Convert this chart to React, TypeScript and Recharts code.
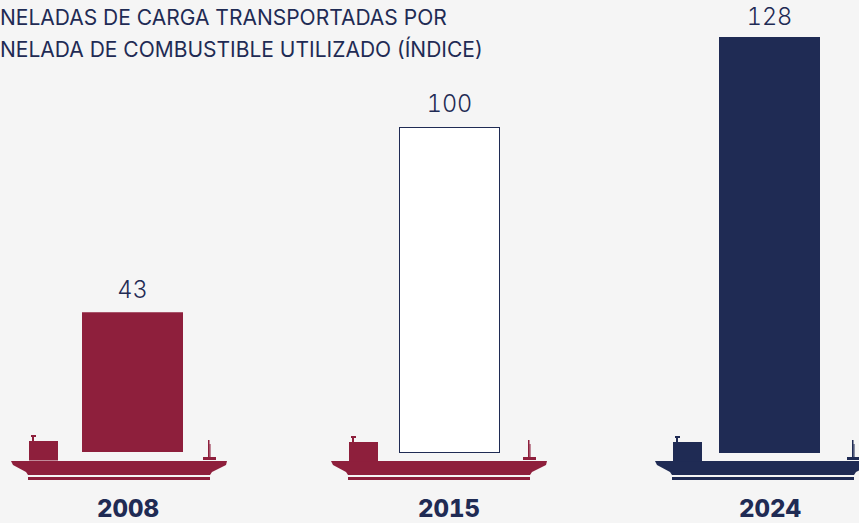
import React from "react";
import { BarChart, Bar, XAxis, YAxis, LabelList } from "recharts";

const years = ["2008", "2015", "2024"];
const values = [43, 100, 128];
const titleLines = ["NELADAS DE CARGA TRANSPORTADAS POR", "NELADA DE COMBUSTIBLE UTILIZADO (ÍNDICE)"];

const NAVY = "#1f2b54";
const RED = "#8e1f3c";
const BG = "#f5f5f5";
const barFills = [RED, "#ffffff", NAVY];
const barStrokes = [RED, NAVY, NAVY];
const shipColors = [RED, RED, NAVY];
const barNudge = [4.5, 0.5, -0.5];
const barLift = [1, 0.5, 0];
const labelGap = [15, 16, 12];
const shipNudge = [-9, -10, -7];
const cabinDrop = [0, 1, 1];
const FONT = "Inter, sans-serif";

const data = years.map((year, i) => ({ year, value: values[i], i }));

function Ship({ cx, top, color, drop }: { cx: number; top: number; color: string; drop: number }) {
  // cx: centre of the hull, top: top of the hull
  const hull = [[-108, 0], [108, 0], [107, 4], [93, 11], [91, 14], [-91, 14], [-93, 11], [-106, 4]]
    .map(([x, y]) => `${cx + x},${top + y}`).join(" ");
  return (
    <g fill={color}>
      <polygon points={hull} />
      <rect x={cx - 91} y={top + 16} width={182} height={3} />
      <rect x={cx - 90} y={top - 20 + drop} width={29} height={19.5} />
      <rect x={cx - 87} y={top - 24 + drop} width={2} height={4} />
      <rect x={cx - 88} y={top - 26 + drop} width={5} height={2} />
      <rect x={cx + 84} y={top - 4} width={13} height={3} />
      <rect x={cx + 89} y={top - 21} width={1.5} height={18} />
      <rect x={cx + 90.5} y={top - 17} width={1} height={14} />
    </g>
  );
}

function Tick(props: any) {
  const { x, payload, index } = props;
  return (
    <g>
      <Ship cx={x + shipNudge[index]} top={461} color={shipColors[index]} drop={cabinDrop[index]} />
      <text x={x} y={517} textAnchor="middle" fontFamily={FONT} fontWeight={800} fontSize={24} fill={NAVY} style={{ fontVariantNumeric: "tabular-nums" }}>
        {payload.value}
      </text>
    </g>
  );
}

function BarShape(props: any) {
  const { x, y, width, height, i } = props;
  const stroked = i === 1;
  return (
    <rect
      x={x + barNudge[i] + (stroked ? 0.5 : 0)}
      y={y - barLift[i]}
      width={width - (stroked ? 1 : 0)}
      height={height}
      fill={barFills[i]}
      stroke={stroked ? barStrokes[i] : "none"}
      strokeWidth={1}
    />
  );
}

function ValueLabel(props: any) {
  const { x, y, width, value, index } = props;
  return (
    <text x={x + width / 2 + barNudge[index]} y={y - labelGap[index]} textAnchor="middle" fontFamily={FONT} fontWeight={300} fontSize={23.5} fill={NAVY} style={{ fontVariantNumeric: "tabular-nums" }}>
      {value}
    </text>
  );
}

export default function App() {
  return (
    <div style={{ position: "absolute", left: 0, top: 0, width: 859, height: 523, overflow: "hidden", background: BG }}>
      <BarChart
        width={859}
        height={523}
        data={data}
        barSize={101}
        margin={{ top: 37, right: -71.5, bottom: 0, left: -32.5 }}
      >
        <XAxis dataKey="year" axisLine={false} tickLine={false} height={70} tick={<Tick />} interval={0} />
        <YAxis hide domain={[0, 128]} />
        <Bar dataKey="value" isAnimationActive={false} shape={<BarShape />}>
          <LabelList dataKey="value" content={<ValueLabel />} />
        </Bar>
        {titleLines.map((t, i) => (
          <text key={t} x={0} y={25 + i * 32} fontFamily={FONT} fontWeight={400} fontSize={21} fill={NAVY}>
            {t}
          </text>
        ))}
      </BarChart>
    </div>
  );
}
